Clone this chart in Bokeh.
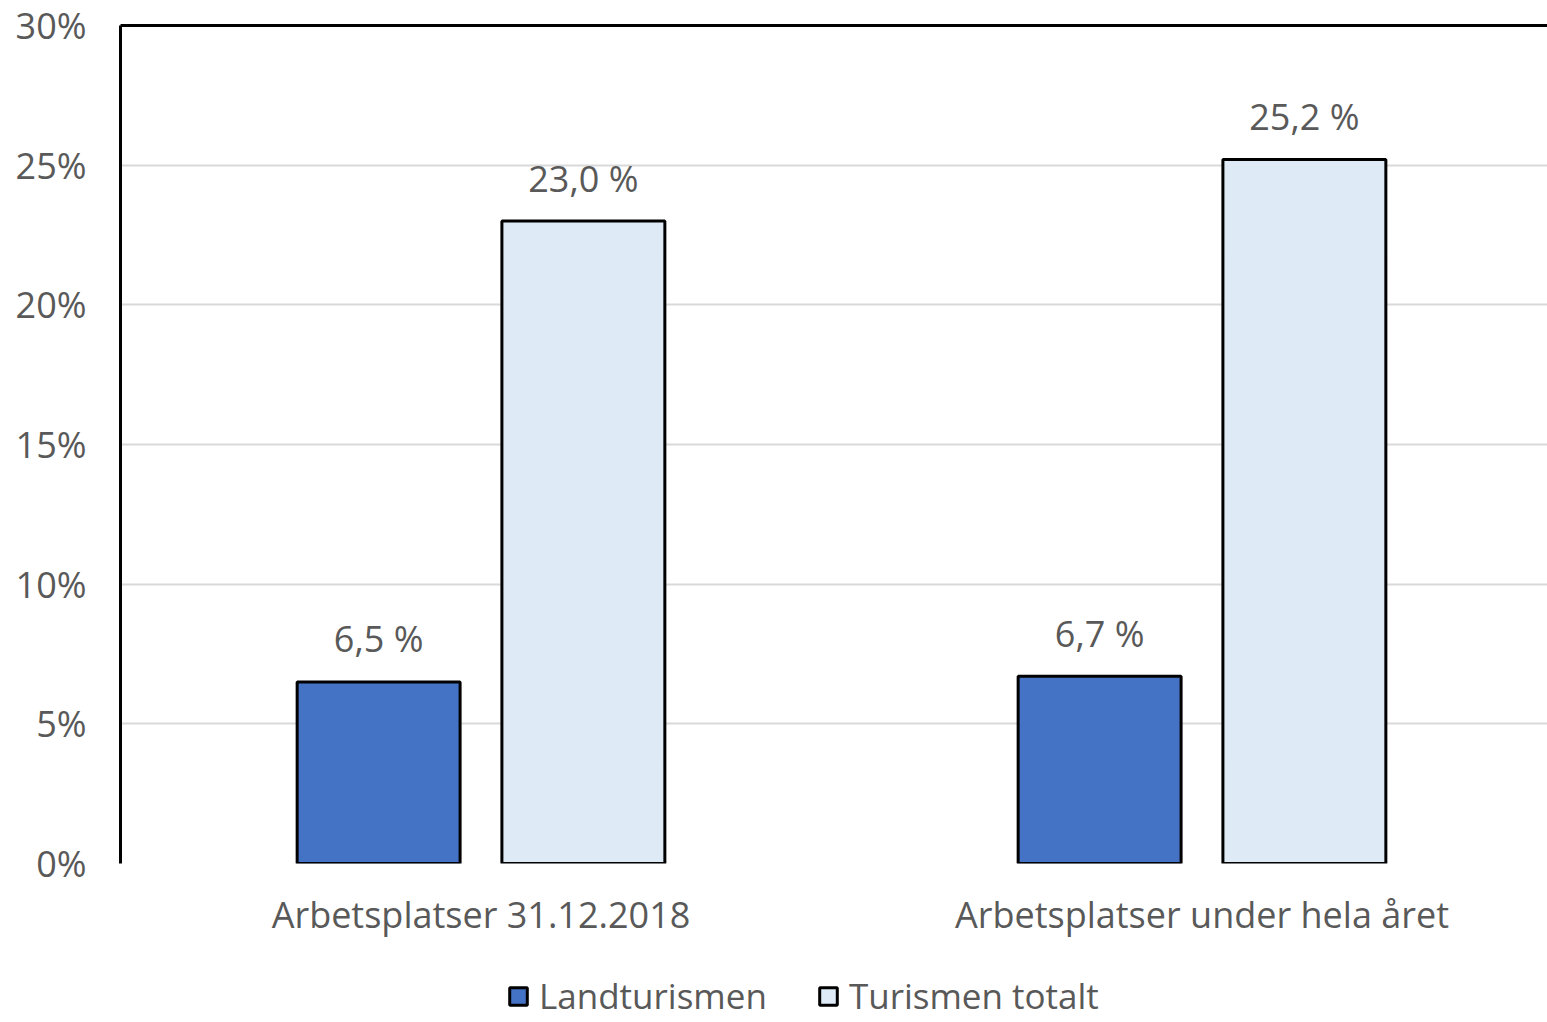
from bokeh.plotting import figure
from bokeh.layouts import column
from bokeh.models import (ColumnDataSource, Range1d, FixedTicker, LinearAxis,
                          PrintfTickFormatter, LabelSet, Legend, LegendItem)
from bokeh.core.properties import value
from bokeh.transform import dodge
from bokeh.embed import file_html
from bokeh.resources import INLINE

categories = ["Arbetsplatser 31.12.2018", "Arbetsplatser under hela året"]
series_names = ["Landturismen", "Turismen totalt"]
landturismen = [6.5, 6.7]
turismen_totalt = [23.0, 25.2]
y_ticks = [0, 5, 10, 15, 20, 25, 30]

FONT = "Open Sans"
TXT = "#595959"
colors = ["#4472C4", "#DEEBF7"]

xpos = [i + 0.5 for i in range(len(categories))]
fmt = lambda v: f"{v:.1f}".replace(".", ",") + " %"
src = ColumnDataSource(dict(
    x=xpos,
    land=landturismen,
    tot=turismen_totalt,
    land_lbl=[fmt(v) for v in landturismen],
    tot_lbl=[fmt(v) for v in turismen_totalt],
))

p = figure(frame_width=1427, frame_height=838, output_backend="svg", toolbar_location=None,
           x_range=Range1d(0, 1427 / 721), y_range=Range1d(0, 30),
           min_border_left=120, min_border_right=0, min_border_top=25,
           min_border_bottom=85)
p.outline_line_color = None
p.background_fill_color = "white"
p.border_fill_color = "white"

off = 0.142
bw = 0.226
r1 = p.vbar(x=dodge("x", -off, range=p.x_range), top="land", width=bw, source=src,
            fill_color=colors[0], line_color="black", line_width=3)
r2 = p.vbar(x=dodge("x", off, range=p.x_range), top="tot", width=bw, source=src,
            fill_color=colors[1], line_color="black", line_width=3)

for col, lbl, o in [("land", "land_lbl", -off), ("tot", "tot_lbl", off)]:
    ls = LabelSet(x=dodge("x", o, range=p.x_range), y=col, text=lbl, source=src,
                  text_align="center", text_baseline="middle", y_offset=43,
                  text_font=value(FONT), text_font_size="36px", text_color=TXT)
    p.add_layout(ls)

# y axis
ya = p.yaxis[0]
ya.ticker = FixedTicker(ticks=y_ticks)
ya.formatter = PrintfTickFormatter(format="%d%%")
ya.axis_line_color = "black"
ya.axis_line_width = 3
ya.major_tick_line_color = None
ya.minor_tick_line_color = None
ya.major_label_text_font = FONT
ya.major_label_text_font_size = "36px"
ya.major_label_text_color = TXT
ya.major_label_standoff = 28

# x axis
xa = p.xaxis[0]
xa.ticker = FixedTicker(ticks=xpos)
xa.major_label_overrides = {x: c for x, c in zip(xpos, categories)}
xa.axis_line_color = None
xa.major_tick_line_color = None
xa.minor_tick_line_color = None
xa.major_label_text_font = FONT
xa.major_label_text_font_size = "36px"
xa.major_label_text_color = TXT
xa.major_label_standoff = 20

# top border
top = LinearAxis(ticker=FixedTicker(ticks=[]), axis_line_color="black", axis_line_width=3,
                 major_tick_line_color=None, minor_tick_line_color=None,
                 major_label_text_font_size="0px")
p.add_layout(top, "above")

p.xgrid.grid_line_color = None
p.ygrid.ticker = FixedTicker(ticks=y_ticks)
p.ygrid.grid_line_color = "#D9D9D9"
p.ygrid.grid_line_width = 2

# legend strip (separate figure so it is not clipped by the main frame)
lg = figure(width=1547, height=74, output_backend="svg", toolbar_location=None,
            x_range=Range1d(0, 1), y_range=Range1d(0, 1),
            min_border_left=0, min_border_right=0, min_border_top=0, min_border_bottom=0)
lg.axis.visible = False
lg.grid.grid_line_color = None
lg.outline_line_color = None
lr = []
for c in colors:
    # zero-size proxy bar: invisible in the strip, but gives the legend its swatch
    lr.append(lg.vbar(x=[0.99], top=[0.99], bottom=[0.99], width=0,
                      fill_color=c, line_color="black", line_width=3))
legend = Legend(items=[LegendItem(label=n, renderers=[r]) for n, r in zip(series_names, lr)],
                orientation="horizontal", location=(387, 3),
                label_text_font=FONT, label_text_font_size="35px", label_text_color=TXT,
                glyph_width=22, glyph_height=22, spacing=50, label_standoff=10,
                border_line_color=None, background_fill_alpha=0,
                margin=0, padding=0)
lg.add_layout(legend, "center")

layout = column(p, lg, spacing=0)
open("out.html", "w").write(file_html(layout, INLINE))
